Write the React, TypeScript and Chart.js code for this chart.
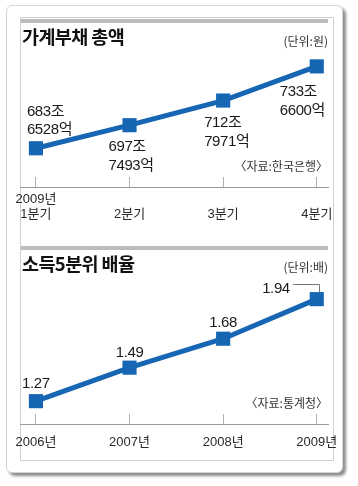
import React, { useEffect, useRef } from 'react';
import { Chart, registerables } from 'chart.js';

Chart.register(...registerables);

// ---------- data ----------
const debtTitle = '가계부채 총액';
const debtUnit = '(단위:원)';
const debtSource = '〈자료:한국은행〉';
const debtQuarters: (string | string[])[] = [['2009년', '1분기'], '2분기', '3분기', '4분기'];
const debtJo = [683, 697, 712, 733];
const debtEok = [6528, 7493, 7971, 6600];

const ratioTitle = '소득5분위 배율';
const ratioUnit = '(단위:배)';
const ratioSource = '〈자료:통계청〉';
const ratioYears = ['2006년', '2007년', '2008년', '2009년'];
const ratioValues = [1.27, 1.49, 1.68, 1.94];

// ---------- styles ----------
const BLUE = '#1766b3';
const NUM_FONT = '"Liberation Sans", Arial, "Noto Sans CJK KR", sans-serif';
const KR_FONT = '"Noto Sans CJK KR", "Liberation Sans", sans-serif';

type LabelPos = { dx: number; dy: number; gap: number; align: CanvasTextAlign };

const debtLabelPos: LabelPos[] = [
  { dx: -9, dy: -32, gap: 18, align: 'left' },
  { dx: -21, dy: 26, gap: 19, align: 'left' },
  { dx: -19, dy: 26.5, gap: 18.5, align: 'left' },
  { dx: -37, dy: 30, gap: 19, align: 'left' },
];
const ratioLabelPos: LabelPos[] = [
  { dx: 0, dy: -13, gap: 0, align: 'center' },
  { dx: 0, dy: -11, gap: 0, align: 'center' },
  { dx: 0, dy: -12, gap: 0, align: 'center' },
  { dx: -27, dy: -6, gap: 0, align: 'right' },
];

type TextItem = { text: string; x: number; y: number; font: string; color: string; align: CanvasTextAlign; spacing?: string };

function staticTextPlugin(items: TextItem[]) {
  return {
    id: 'staticText',
    afterDraw(chart: any) {
      const ctx = chart.ctx as CanvasRenderingContext2D;
      ctx.save();
      ctx.textBaseline = 'alphabetic';
      items.forEach((t) => {
        ctx.font = t.font;
        (ctx as any).letterSpacing = t.spacing || '0px';
        ctx.fillStyle = t.color;
        ctx.textAlign = t.align;
        ctx.fillText(t.text, t.x, t.y);
      });
      ctx.restore();
    },
  };
}

function pointLabelPlugin(lines: string[][], pos: LabelPos[], font: string, leader?: number) {
  return {
    id: 'pointLabels',
    afterDatasetsDraw(chart: any) {
      const ctx = chart.ctx as CanvasRenderingContext2D;
      const meta = chart.getDatasetMeta(0);
      ctx.save();
      ctx.font = font;
      (ctx as any).letterSpacing = '-0.4px';
      ctx.fillStyle = '#1a1a1a';
      ctx.textBaseline = 'alphabetic';
      meta.data.forEach((pt: any, i: number) => {
        const p = pos[i];
        ctx.textAlign = p.align;
        lines[i].forEach((ln, j) => {
          ctx.fillText(ln, pt.x + p.dx, pt.y + p.dy + j * p.gap);
        });
      });
      if (leader !== undefined) {
        const pt = meta.data[leader];
        ctx.strokeStyle = '#777';
        ctx.lineWidth = 1;
        ctx.beginPath();
        ctx.moveTo(Math.round(pt.x - 24), Math.round(pt.y - 15) + 0.5);
        ctx.lineTo(Math.round(pt.x + 2) + 0.5, Math.round(pt.y - 15) + 0.5);
        ctx.lineTo(Math.round(pt.x + 2) + 0.5, Math.round(pt.y - 7));
        ctx.stroke();
      }
      ctx.restore();
    },
  };
}

function makeChart(
  canvas: HTMLCanvasElement,
  labels: (string | string[])[],
  values: number[],
  yMin: number,
  yMax: number,
  padding: { top: number; bottom: number },
  axisHeight: number,
  tickPadding: number,
  plugins: any[]
) {
  return new Chart(canvas, {
    type: 'line',
    data: {
      datasets: [
        {
          data: values.map((v, i) => ({ x: i, y: v })),
          borderColor: BLUE,
          borderWidth: 5,
          pointStyle: 'rect',
          pointRadius: 10,
          pointBackgroundColor: BLUE,
          pointBorderColor: BLUE,
          pointBorderWidth: 0,
          tension: 0,
        },
      ],
    },
    options: {
      responsive: false,
      animation: false,
      devicePixelRatio: 1,
      layout: { padding: { left: 20, right: 30, top: padding.top, bottom: padding.bottom } },
      plugins: { legend: { display: false }, tooltip: { enabled: false }, title: { display: false } },
      scales: {
        x: {
          type: 'linear',
          min: -0.17,
          max: 3.12,
          afterBuildTicks: (s: any) => {
            s.ticks = labels.map((_, i) => ({ value: i }));
          },
          afterFit: (s: any) => {
            s.height = axisHeight;
            s.paddingLeft = 0;
            s.paddingRight = 0;
          },
          grid: { display: true, drawOnChartArea: false, drawTicks: true, tickLength: -10, color: '#b0b0b0', lineWidth: 1 },
          border: { display: true, color: '#9a9a9a', width: 1 },
          ticks: {
            callback: (v: any) => labels[v as number],
            autoSkip: false,
            maxRotation: 0,
            minRotation: 0,
            padding: tickPadding,
            crossAlign: 'far',
            color: '#2a2a2a',
            font: { family: NUM_FONT, size: 13, lineHeight: 1.15 },
          },
        },
        y: { display: false, min: yMin, max: yMax },
      },
    },
    plugins,
  } as any);
}

export default function App() {
  const topRef = useRef<HTMLCanvasElement>(null);
  const botRef = useRef<HTMLCanvasElement>(null);

  useEffect(() => {
    const debtValues = debtJo.map((j, i) => j + debtEok[i] / 10000);
    const debtLines = debtJo.map((j, i) => [`${j}조`, `${debtEok[i]}억`]);
    const c1 = makeChart(
      topRef.current!,
      debtQuarters,
      debtValues,
      660,
      740,
      { top: 56, bottom: 3 },
      50,
      22,
      [
        pointLabelPlugin(debtLines, debtLabelPos, `15px ${NUM_FONT}`),
        staticTextPlugin([
          { text: debtTitle, x: 22, y: 44, font: `bold 18.5px ${KR_FONT}`, color: '#111', align: 'left', spacing: '-0.6px' },
          { text: debtUnit, x: 328, y: 46, font: `12px ${KR_FONT}`, color: '#333', align: 'right' },
          { text: debtSource, x: 328, y: 171, font: `12px ${KR_FONT}`, color: '#333', align: 'right' },
        ]),
      ]
    );

    const ratioLines = ratioValues.map((v) => [v.toFixed(2)]);
    const c2 = makeChart(
      botRef.current!,
      ratioYears,
      ratioValues,
      1.12,
      2.0,
      { top: 50, bottom: 22 },
      40,
      28,
      [
        pointLabelPlugin(ratioLines, ratioLabelPos, `15px ${NUM_FONT}`, 3),
        staticTextPlugin([
          { text: ratioTitle, x: 22, y: 31, font: `bold 18.5px ${KR_FONT}`, color: '#111', align: 'left', spacing: '-0.6px' },
          { text: ratioUnit, x: 328, y: 32, font: `12px ${KR_FONT}`, color: '#333', align: 'right' },
          { text: ratioSource, x: 328, y: 168, font: `12px ${KR_FONT}`, color: '#333', align: 'right' },
        ]),
      ]
    );
    return () => {
      c1.destroy();
      c2.destroy();
    };
  }, []);

  return (
    <div style={{ position: 'absolute', left: 0, top: 0, width: 358, height: 486, background: '#fff', overflow: 'hidden' }}>
      <div
        style={{
          position: 'absolute', left: 6, top: 5, width: 337, height: 468, boxSizing: 'border-box',
          border: '1px solid #d4d4d4', borderRadius: 6, background: '#fff', boxShadow: '3px 3px 3px rgba(0,0,0,0.45)',
        }}
      />
      <div
        style={{
          position: 'absolute', left: 20, top: 17, width: 314, height: 444, boxSizing: 'border-box',
          border: '1px solid #cfcfcf',
        }}
      />
      <div style={{ position: 'absolute', left: 21, top: 19, width: 307, height: 4, background: '#bcbcbc' }} />
      <div style={{ position: 'absolute', left: 21, top: 246, width: 307, height: 4, background: '#bcbcbc' }} />
      <canvas ref={topRef} width={358} height={240} style={{ position: 'absolute', left: 0, top: 0 }} />
      <canvas ref={botRef} width={358} height={246} style={{ position: 'absolute', left: 0, top: 240 }} />
    </div>
  );
}
